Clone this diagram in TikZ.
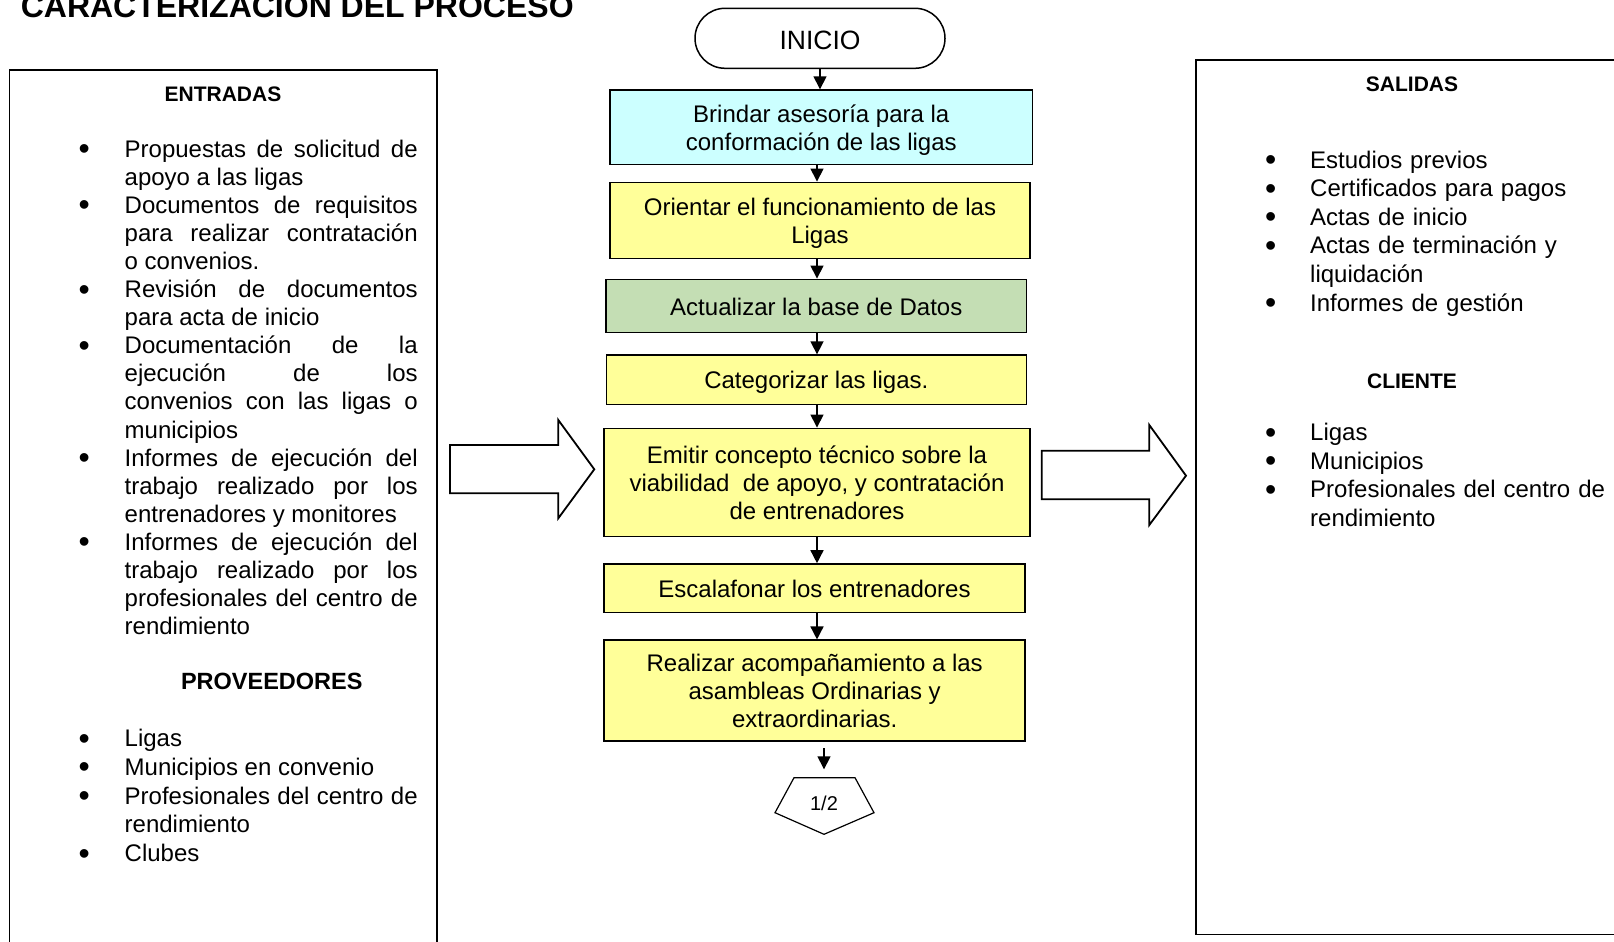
\documentclass[tikz,border=0pt]{standalone}
\usepackage{fontspec}
\setmainfont{Liberation Sans}
\usetikzlibrary{arrows.meta}

\definecolor{celeste}{RGB}{204,255,255}
\definecolor{amarillo}{RGB}{255,255,153}
\definecolor{verde}{RGB}{196,222,180}

\tolerance=10000
\hyphenpenalty=10000
\hbadness=10000

% vineta de las listas y puntal de las cajas
\newlength{\sangria}
\setlength{\sangria}{46pt}
\newcommand{\vineta}{\noindent\llap{\makebox[\sangria][l]{\smash{\fontsize{32}{32}\selectfont\raisebox{-2.5pt}{\textbullet}}}}}
\newcommand{\sost}{\rule[-5pt]{0pt}{28pt}}

\tikzset{
  caja/.style={draw, line width=1.5pt, fill=amarillo, align=center, inner sep=0pt,
    font=\fontsize{24}{28}\selectfont},
  flecha/.style={line width=1.5pt, -{Triangle[width=13pt,length=13pt]}},
  lista/.style={anchor=base west, inner sep=0pt, align=justify, text width=293pt,
    font=\fontsize{24}{#1}\selectfont},
  lista/.default=28.1pt,
  encabezado/.style={anchor=base, inner sep=0pt, font=\fontsize{21}{24}\selectfont\bfseries},
  marco/.style={line width=1.8pt},
}

\begin{document}
\begin{tikzpicture}[x=1pt, y=-1pt]
  \useasboundingbox (0,0) rectangle (1614,942);

  % titulo
  \node[anchor=base west, inner sep=0pt, font=\fontsize{32}{36}\selectfont\bfseries]
    (tit) at (20.6,17.5) {CARACTERIZACIÓN DEL PROCESO};

  % marcos laterales
  \draw[marco] (9.5,70) rectangle (437,960);
  \draw[marco] (1196,60) rectangle (1640,934.5);

  % entradas
  \node[encabezado] (ent) at (223,101.5) {ENTRADAS};
  \node[lista] (lent) at (124.5,157) {%
    \vineta Propuestas de solicitud de\linebreak apoyo a las ligas\par
    \vineta Documentos de requisitos\linebreak para realizar contratación\linebreak o convenios.\par
    \vineta Revisión de documentos\linebreak para acta de inicio\par
    \vineta Documentación de la\linebreak ejecución de los\linebreak convenios con las ligas o\linebreak municipios\par
    \vineta Informes de ejecución del\linebreak trabajo realizado por los\linebreak entrenadores y monitores\par
    \vineta Informes de ejecución del\linebreak trabajo realizado por los\linebreak profesionales del centro de\linebreak rendimiento};

  % proveedores
  \node[encabezado, font=\fontsize{23.5}{27}\selectfont\bfseries] (prov) at (271.8,689.5) {PROVEEDORES};
  \node[lista=28.8pt] (lprov) at (124.5,746.5) {%
    \vineta Ligas\par
    \vineta Municipios en convenio\par
    \vineta Profesionales del centro de\linebreak rendimiento\par
    \vineta Clubes};

  % salidas
  \node[encabezado] (sal) at (1412,91.5) {SALIDAS};
  \node[lista=28.6pt, align=left, text width=300pt] (lsal) at (1310,168) {%
    \setlength{\sangria}{45pt}%
    \vineta Estudios previos\par
    \vineta Certificados para pagos\par
    \vineta Actas de inicio\par
    \vineta Actas de terminación y\newline liquidación\par
    \vineta Informes de gestión};

  % cliente
  \node[encabezado] (cli) at (1412,388) {CLIENTE};
  \node[lista=28.6pt, align=left, text width=300pt] (lcli) at (1310,440.5) {%
    \setlength{\sangria}{45pt}%
    \vineta Ligas\par
    \vineta Municipios\par
    \vineta Profesionales del centro de\newline rendimiento};

  % flujo del proceso
  \node[caja, fill=white, rounded corners=30pt, minimum width=250pt, minimum height=60pt,
    font=\fontsize{26.5}{30}\selectfont] (inicio) at (820,38.3) {\rule[-2pt]{0pt}{27pt}INICIO};
  \node[caja, fill=celeste, minimum width=422.7pt, minimum height=74.3pt] (b1) at (821.3,127.2)
    {\sost Brindar asesoría para la\\\sost conformación de las ligas};
  \node[caja, minimum width=420pt, minimum height=76pt] (b2) at (820,220.3)
    {\sost Orientar el funcionamiento de las\\\sost Ligas};
  \node[caja, fill=verde, minimum width=420.7pt, minimum height=53.4pt] (b3) at (816.3,306)
    {\sost Actualizar la base de Datos};
  \node[caja, minimum width=420pt, minimum height=49.4pt] (b4) at (816.3,379.8)
    {\sost Categorizar las ligas.};
  \node[caja, minimum width=426pt, minimum height=108.4pt] (b5) at (817,482.5)
    {\sost Emitir concepto técnico sobre la\\\sost viabilidad\ \ de apoyo, y contratación\\\sost de entrenadores};
  \node[caja, minimum width=421pt, minimum height=48.7pt] (b6) at (814.5,588.3)
    {\sost Escalafonar los entrenadores};
  \node[caja, minimum width=421pt, minimum height=101pt] (b7) at (814.7,690.7)
    {\sost Realizar acompañamiento a las\\\sost asambleas Ordinarias y\\\sost extraordinarias.};

  % conector de pagina
  \draw[line width=1.2pt] (794,777.7) -- (855,777.7) -- (874,812.7) -- (824,834.3) -- (775,812.7) -- cycle;
  \node[anchor=base, inner sep=0pt, font=\fontsize{20}{24}\selectfont] (pag) at (824,810.7) {1/2};

  % flechas
  \coordinate (eje) at (817,0);
  \coordinate (pagsal) at (824,748.3);
  \coordinate (pagent) at (824,769.3);
  \draw[flecha] (inicio.south) -- (inicio.south |- b1.north);
  \draw[flecha] (b1.south -| eje) -- (b2.north -| eje);
  \draw[flecha] (b2.south -| eje) -- (b3.north -| eje);
  \draw[flecha] (b3.south -| eje) -- (b4.north -| eje);
  \draw[flecha] (b4.south -| eje) -- (b5.north -| eje);
  \draw[flecha] (b5.south -| eje) -- (b6.north -| eje);
  \draw[flecha] (b6.south -| eje) -- (b7.north -| eje);
  \draw[flecha] (pagsal) -- (pagent);

  % flechas huecas
  \draw[marco] (450,445) -- (558.3,445) -- (558.3,420) -- (594.3,469.3)
    -- (558.3,518.3) -- (558.3,493.3) -- (450,493.3) -- cycle;
  \draw[marco] (1041.7,450.7) -- (1149.3,450.7) -- (1149.3,425) -- (1186,475.7)
    -- (1149.3,525) -- (1149.3,499.3) -- (1041.7,499.3) -- cycle;
\end{tikzpicture}
\end{document}
